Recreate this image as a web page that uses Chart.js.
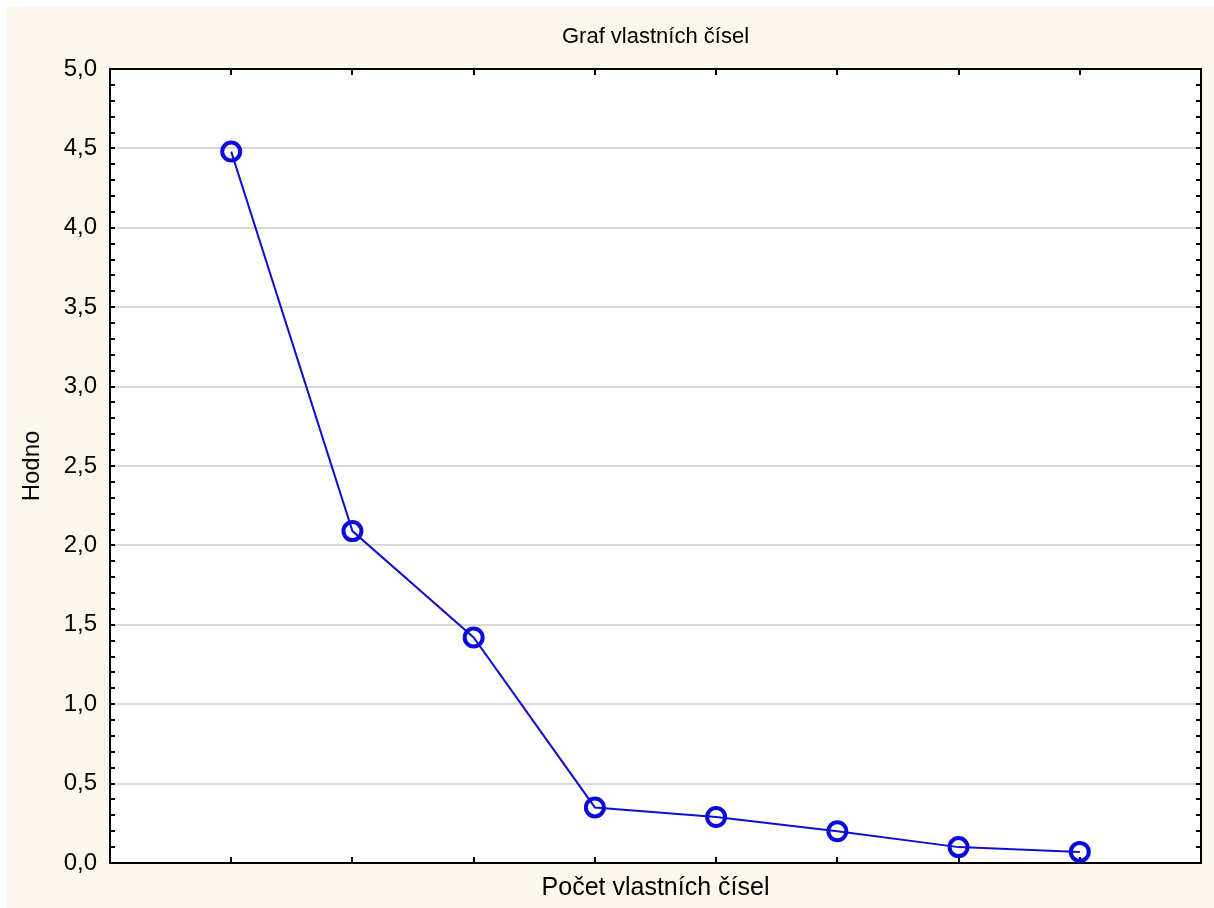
<!DOCTYPE html>
<html>
<head>
<meta charset="utf-8">
<script src="https://cdn.jsdelivr.net/npm/chart.js@4/dist/chart.umd.min.js"></script>
<style>
  html, body { margin: 0; padding: 0; background: #ffffff; }
  #wrap { position: absolute; left: 0; top: 0; width: 1214px; height: 908px; }
</style>
</head>
<body>
<div id="wrap"><canvas id="c" width="1214" height="908"></canvas></div>
<script>
// ---- data ----
const categories = [1, 2, 3, 4, 5, 6, 7, 8];
const eigenvalues = [4.48, 2.09, 1.42, 0.35, 0.29, 0.20, 0.10, 0.07];
const yTickValues = [0, 0.5, 1, 1.5, 2, 2.5, 3, 3.5, 4, 4.5, 5];
const chartTitle = 'Graf vlastních čísel';
const xTitle = 'Počet vlastních čísel';
const yTitle = 'Hodno';

Chart.defaults.font.family = "'Liberation Sans', Arial, sans-serif";
Chart.defaults.color = '#000000';

const framePlugin = {
  id: 'frame',
  beforeDraw(chart) {
    const ctx = chart.ctx, a = chart.chartArea;
    ctx.save();
    ctx.fillStyle = '#fcf8ee';
    ctx.fillRect(7, 7, chart.width - 7, chart.height - 7);
    ctx.fillStyle = '#ffffff';
    ctx.fillRect(a.left, a.top, a.right - a.left, a.bottom - a.top);
    ctx.restore();
  },
  beforeDatasetsDraw(chart) {
    const ctx = chart.ctx, a = chart.chartArea;
    const xs = chart.scales.x, ys = chart.scales.y;
    ctx.save();
    ctx.strokeStyle = '#000000';
    ctx.lineWidth = 2;
    ctx.strokeRect(a.left, a.top, a.right - a.left, a.bottom - a.top);
    ctx.beginPath();
    categories.forEach(c => {
      const px = Math.round(xs.getPixelForValue(c));
      ctx.moveTo(px, a.bottom); ctx.lineTo(px, a.bottom - 6);
      ctx.moveTo(px, a.top); ctx.lineTo(px, a.top + 6);
    });
    for (let i = 0; i <= 50; i++) {
      const py = Math.round(ys.getPixelForValue(i / 10));
      ctx.moveTo(a.left, py); ctx.lineTo(a.left + 5, py);
      ctx.moveTo(a.right, py); ctx.lineTo(a.right - 5, py);
    }
    ctx.stroke();
    ctx.restore();
  }
};

new Chart(document.getElementById('c'), {
  type: 'line',
  data: {
    datasets: [{
      data: categories.map((c, i) => ({ x: c, y: eigenvalues[i] })),
      borderColor: '#1010cc',
      borderWidth: 2,
      pointRadius: 9,
      pointBorderWidth: 4,
      pointBorderColor: '#0a0ae0',
      pointBackgroundColor: 'rgba(0,0,0,0)',
      tension: 0
    }]
  },
  options: {
    responsive: false,
    animation: false,
    layout: { padding: { left: 0, right: 11, top: 0, bottom: 0 } },
    plugins: {
      legend: { display: false },
      tooltip: { enabled: false },
      title: {
        display: true,
        fullSize: false,
        text: chartTitle,
        color: '#000000',
        font: { size: 22, weight: 'normal' },
        padding: { top: 24, bottom: 18.6 }
      }
    },
    scales: {
      x: {
        type: 'linear',
        min: 0, max: 9,
        afterFit(s) { s.height = 45; },
        grid: { display: false, drawTicks: false },
        border: { display: false },
        ticks: { display: false },
        title: {
          display: true, text: xTitle, color: '#000000',
          font: { size: 25 }, padding: { top: 0, bottom: 5 }
        }
      },
      y: {
        type: 'linear',
        min: 0, max: 5,
        afterFit(s) { s.width = 110; },
        afterBuildTicks(s) { s.ticks = yTickValues.map(v => ({ value: v })); },
        grid: { color: '#d9d9d9', lineWidth: 2, drawTicks: false },
        border: { display: false },
        ticks: {
          padding: 13,
          color: '#000000',
          font: { size: 24 },
          callback: v => v.toFixed(1).replace('.', ',')
        },
        title: {
          display: true, text: yTitle, color: '#000000',
          font: { size: 24 }, padding: { top: 18, bottom: 0 }
        }
      }
    }
  },
  plugins: [framePlugin]
});
</script>
</body>
</html>
